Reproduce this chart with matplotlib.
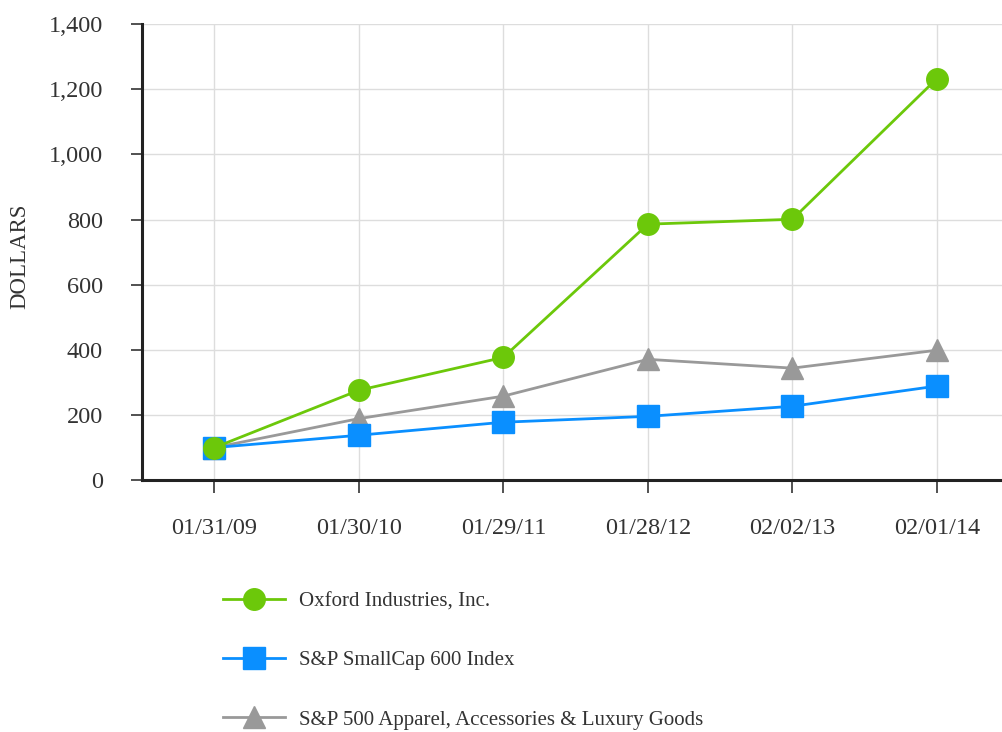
import matplotlib.pyplot as plt

### Data

dates = ['01/31/09', '01/30/10', '01/29/11', '01/28/12', '02/02/13', '02/01/14']
oxford = [100, 276, 377, 786, 801, 1233]
smallcap = [100, 138, 178, 196, 227, 289]
apparel = [100, 189, 258, 371, 344, 399]

### Set up figure

plt.rcParams['font.family'] = ['Liberation Serif', 'DejaVu Serif']

fig = plt.figure(figsize=(10.02, 7.32), dpi=100)
ax = fig.add_axes([0.1417, 0.344, 0.8583, 0.623])

x = range(len(dates))

ax.plot(x, apparel, color='#999999', lw=2, marker='^', ms=16,
        label='S&P 500 Apparel, Accessories & Luxury Goods', zorder=3)
ax.plot(x, smallcap, color='#0a8fff', lw=2, marker='s', ms=15.5,
        label='S&P SmallCap 600 Index', zorder=4)
ax.plot(x, oxford, color='#6cc80a', lw=2, marker='o', ms=15.5,
        label='Oxford Industries, Inc.', zorder=5)

### Axes

ax.set_xlim(-0.5, 5.45)
ax.set_ylim(0, 1400)
ax.set_xticks(list(x))
ax.set_xticklabels(dates)
ax.set_yticks(range(0, 1401, 200))
ax.set_yticklabels(['{:,}'.format(v) for v in range(0, 1401, 200)])

ax.grid(True, color='#dddddd', lw=1)
ax.set_axisbelow(True)

for s in ['top', 'right']:
    ax.spines[s].set_visible(False)
for s in ['left', 'bottom']:
    ax.spines[s].set_linewidth(2.2)
    ax.spines[s].set_color('#222222')

ax.tick_params('x', labelsize=17.5, length=9, width=1.2, pad=18, colors='#333333')
ax.tick_params('y', labelsize=17.5, length=8, width=1.2, pad=20, colors='#333333')
ax.set_ylabel('DOLLARS', size=16.5, color='#333333', va='center')
ax.yaxis.set_label_coords((20 - 142) / (0.8583 * 1002), 0.49)

### Legend

h, l = ax.get_legend_handles_labels()
fig.legend(h[::-1], l[::-1], loc='upper left', bbox_to_anchor=(0.214, 0.203),
           frameon=False, fontsize=15, handlelength=3.0, handletextpad=0.65,
           labelspacing=1.9, borderaxespad=0, labelcolor='#333333')

fig.savefig('out.png', dpi=100)
plt.close(fig)
